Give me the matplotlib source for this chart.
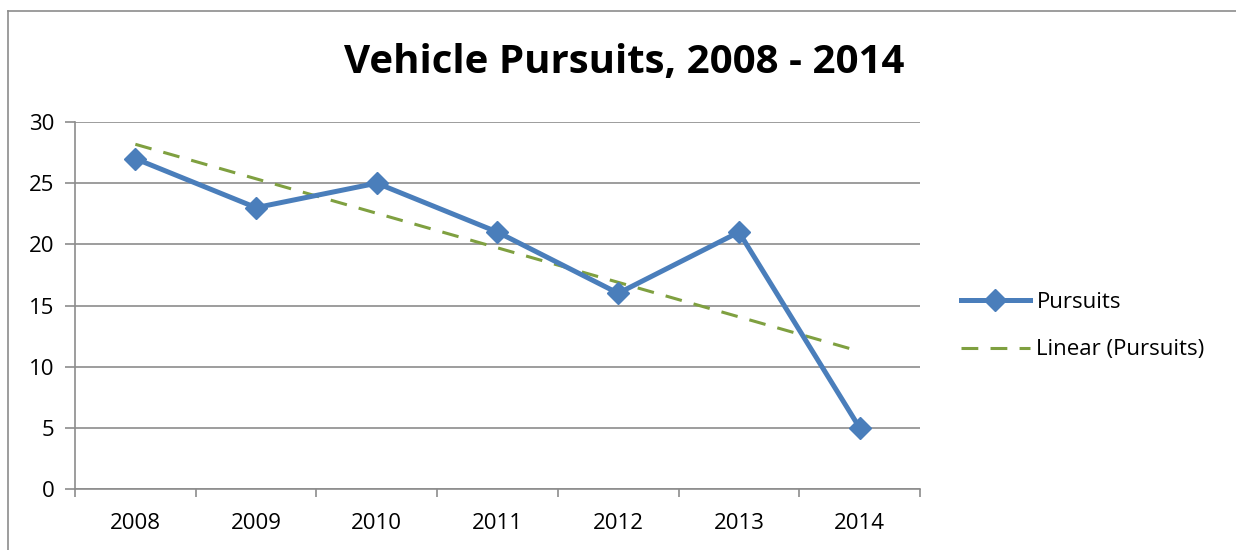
import numpy as np
import matplotlib
matplotlib.use("Agg")
import matplotlib.pyplot as plt
from matplotlib.lines import Line2D

years = ["2008", "2009", "2010", "2011", "2012", "2013", "2014"]
pursuits = [27, 23, 25, 21, 16, 21, 5]
y_ticks = [0, 5, 10, 15, 20, 25, 30]

plt.rcParams['font.family'] = ['Open Sans', 'DejaVu Sans']

W, H = 1236, 550
fig = plt.figure(figsize=(W / 100, H / 100), dpi=100)
fig.patch.set_facecolor('white')

# chart border (right and bottom edges lie outside the image)
bx, by = 7.5 / W, 1 - 10.5 / H
fig.add_artist(Line2D([bx, bx], [-0.05, by], transform=fig.transFigure, color='#8c8c8c',
                      lw=1.2, solid_capstyle='projecting'))
fig.add_artist(Line2D([bx, 1.05], [by, by], transform=fig.transFigure, color='#8c8c8c',
                      lw=1.2, solid_capstyle='projecting'))

left, right, top, bottom = 75, 920, 122, 489
ax = fig.add_axes([left / W, 1 - bottom / H, (right - left) / W, (bottom - top) / H])

x = np.arange(len(years))
blue = '#4A7EBB'
green = '#7FA040'
grid_c = '#8c8c8c'

# trend line (least squares fit, as Excel's linear trendline)
coef = np.polyfit(x + 1, pursuits, 1)
trend = np.polyval(coef, x + 1)
ax.plot(x, trend, color=green, lw=2.2, dashes=(5.5, 4), zorder=3)
ax.plot(x, pursuits, color=blue, lw=3.6, marker='D', markersize=11,
        markerfacecolor=blue, markeredgecolor=blue, zorder=4)

ax.set_xlim(-0.5, len(years) - 0.5)
ax.set_ylim(0, 30)
ax.set_yticks(y_ticks)
ax.set_xticks(np.arange(-0.5, len(years), 1.0))
ax.set_xticklabels([])
ax.set_xticks(x, minor=True)
ax.set_xticklabels(years, minor=True)
ax.tick_params(axis='x', which='minor', length=0, pad=17, labelsize=16)
ax.tick_params(axis='x', which='major', length=6, width=1.2, color=grid_c, direction='out')
ax.tick_params(axis='y', length=7, width=1.2, color=grid_c, direction='out', pad=8, labelsize=16)
ax.yaxis.grid(True, color=grid_c, lw=1.2)
ax.set_axisbelow(True)
for s in ['top', 'right']:
    ax.spines[s].set_visible(False)
for s in ['left', 'bottom']:
    ax.spines[s].set_color(grid_c)
    ax.spines[s].set_linewidth(1.2)

fig.text(624 / W, 1 - 62 / H, "Vehicle Pursuits, 2008 - 2014", ha='center', va='center',
         fontsize=29, fontweight='bold')

handles = [Line2D([], [], color=blue, lw=3.6, marker='D', markersize=11),
           Line2D([], [], color=green, lw=2.2, dashes=(5.5, 4))]
fig.legend(handles, ["Pursuits", "Linear (Pursuits)"], loc='center left',
           bbox_to_anchor=(952 / W, 1 - 326 / H), frameon=False, fontsize=16,
           handlelength=3.1, handletextpad=0.3, labelspacing=1.2, borderaxespad=0,
           borderpad=0.4)

fig.savefig("out.png", dpi=100)
